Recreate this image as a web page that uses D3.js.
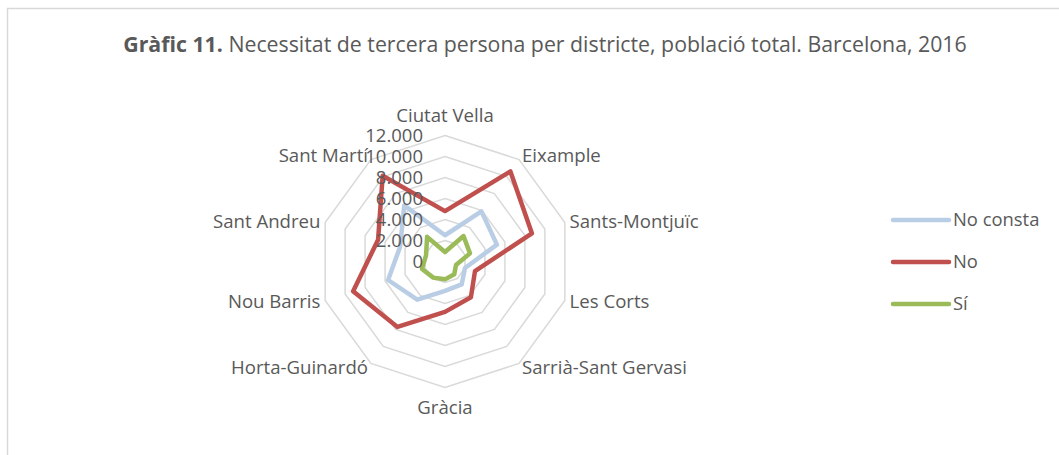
<!DOCTYPE html>
<html>
<head>
<meta charset="utf-8">
<script src="https://cdn.jsdelivr.net/npm/d3@7"></script>
<style>
  body { margin: 0; background: #fff; }
  svg { display: block; font-family: "Open Sans", Lato, sans-serif; }
</style>
</head>
<body>
<div id="chart"></div>
<script>
// Gràfic 11 - radar per districte

const districts = ["Ciutat Vella", "Eixample", "Sants-Montjuïc", "Les Corts", "Sarrià-Sant Gervasi",
  "Gràcia", "Horta-Guinardó", "Nou Barris", "Sant Andreu", "Sant Martí"]

const noConsta = [2500, 5900, 5200, 2000, 2700, 2800, 4500, 5700, 4500, 6600]
const no = [4800, 10600, 8700, 3000, 4200, 4800, 7700, 9200, 6700, 10100]
const si = [900, 3000, 2500, 1100, 1500, 1700, 1900, 2300, 1900, 2900]

const ticks = [0, 2000, 4000, 6000, 8000, 10000, 12000]
const tickLabels = ["0", "2.000", "4.000", "6.000", "8.000", "10.000", "12.000"]

const seriesNames = ["No consta", "No", "Sí"]
const colors = ["#b9cde5", "#c0504d", "#9bbb59"]

const W = 1059
const H = 455
const cx = 445
const cy = 261.5
const R = 126

const svg = d3.select("#chart").append("svg").attr("width", W).attr("height", H)

// frame (only top and left edges are visible)
svg.append("path")
  .attr("d", `M7.5,${H} L7.5,8.5 L${W},8.5`)
  .style("fill", "none")
  .style("stroke", "#d9d9d9")
  .style("stroke-width", 1.5)

// title
const title = svg.append("text")
  .attr("x", 545)
  .attr("y", 52)
  .attr("text-anchor", "middle")
  .style("font-size", "21.3px")
  .style("fill", "#595959")
title.append("tspan").style("font-weight", "bold").text("Gràfic 11.")
title.append("tspan").text(" Necessitat de tercera persona per districte, població total. Barcelona, 2016")

const r = d3.scaleLinear().domain([0, 12000]).range([0, R])
const angle = d3.scaleLinear().domain([0, districts.length]).range([0, 2 * Math.PI])

const px = (i, v) => cx + r(v) * Math.sin(angle(i))
const py = (i, v) => cy - r(v) * Math.cos(angle(i))

// grid rings
const ring = d3.line().curve(d3.curveLinearClosed)
svg.append("g")
  .selectAll("path")
  .data(ticks.slice(1))
  .enter()
  .append("path")
  .attr("d", (t) => ring(districts.map((d, i) => [px(i, t), py(i, t)])))
  .style("fill", "none")
  .style("stroke", "#d9d9d9")
  .style("stroke-width", 1.5)

// series
const allSeries = [noConsta, no, si]
const line = d3.line()
  .x((d, i) => px(i, d))
  .y((d, i) => py(i, d))
  .curve(d3.curveLinearClosed)

svg.append("g")
  .selectAll("path")
  .data(allSeries)
  .enter()
  .append("path")
  .attr("d", (s) => line(s))
  .style("fill", "none")
  .style("stroke", (s, k) => colors[k])
  .style("stroke-width", 4.5)
  .style("stroke-linejoin", "round")

// tick labels along the first axis
svg.append("g")
  .selectAll("text")
  .data(ticks)
  .enter()
  .append("text")
  .attr("x", cx - 22)
  .attr("y", (t) => cy - r(t))
  .attr("dy", "0.35em")
  .attr("text-anchor", "end")
  .style("font-size", "18.5px")
  .style("fill", "#595959")
  .text((t, i) => tickLabels[i])

// category labels
svg.append("g")
  .selectAll("text")
  .data(districts)
  .enter()
  .append("text")
  .each(function (d, i) {
    const a = angle(i)
    const s = Math.sin(a)
    const c = Math.cos(a)
    const el = d3.select(this)
    if (Math.abs(s) < 0.01) {
      const rr = r(12000) + 20
      el.attr("x", cx).attr("y", cy - rr * c).attr("text-anchor", "middle")
    } else {
      const rr = r(12000) + 5
      el.attr("x", cx + rr * s).attr("y", cy - rr * c).attr("text-anchor", s > 0 ? "start" : "end")
    }
  })
  .attr("dy", "0.35em")
  .style("font-size", "18.6px")
  .style("fill", "#595959")
  .text((d) => d)

// legend
const legend = svg.append("g").attr("transform", "translate(893, 220)")
const items = legend.selectAll("g")
  .data(seriesNames)
  .enter()
  .append("g")
  .attr("transform", (d, i) => `translate(0, ${i * 42})`)

items.append("line")
  .attr("x1", 0)
  .attr("x2", 56)
  .style("stroke", (d, i) => colors[i])
  .style("stroke-width", 4.5)
  .style("stroke-linecap", "round")

items.append("text")
  .attr("x", 60)
  .attr("dy", "0.35em")
  .style("font-size", "18.4px")
  .style("fill", "#595959")
  .text((d) => d)
</script>
</body>
</html>
